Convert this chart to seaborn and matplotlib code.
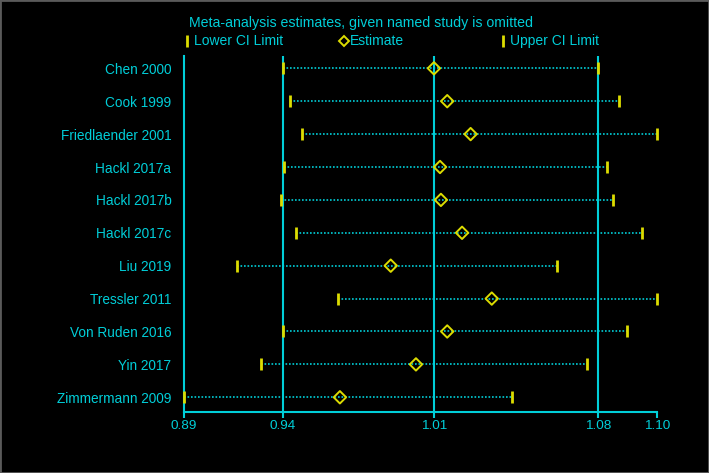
import matplotlib
matplotlib.use("Agg")
import matplotlib.pyplot as plt
import seaborn as sns
import pandas as pd
from matplotlib.lines import Line2D
from matplotlib.patches import Rectangle

# Influence analysis: estimate when each named study is left out
studies = ["Chen 2000", "Cook 1999", "Friedlaender 2001", "Hackl 2017a", "Hackl 2017b",
           "Hackl 2017c", "Liu 2019", "Tressler 2011", "Von Ruden 2016", "Yin 2017",
           "Zimmermann 2009"]
lower = [0.9380, 0.9411, 0.9466, 0.9384, 0.9372, 0.9439, 0.9174, 0.9623, 0.9380, 0.9281, 0.8940]
estimate = [1.0051, 1.0110, 1.0214, 1.0078, 1.0082, 1.0176, 0.9859, 1.0308, 1.0110, 0.9971, 0.9633]
upper = [1.0781, 1.0875, 1.1041, 1.0821, 1.0848, 1.0974, 1.0596, 1.1041, 1.0908, 1.0730, 1.0398]
# full-sample lower CI, estimate, upper CI
overall = [0.9380, 1.0053, 1.0780]

legend_title = "Meta-analysis estimates, given named study is omitted"
legend_labels = ["Lower CI Limit", "Estimate", "Upper CI Limit"]

CYAN = "#00CED8"
YELLOW = "#DCDC00"

df = pd.DataFrame({"study": studies, "lower": lower, "estimate": estimate, "upper": upper})

sns.set_theme(style="ticks")
plt.rcParams["font.family"] = ["Liberation Sans", "DejaVu Sans"]

fig = plt.figure(figsize=(7.09, 4.73), dpi=100, facecolor="black")
ax = fig.add_axes([0.2595, 0.1296, 0.6667, 0.752])
ax.set_facecolor("black")

for v in overall:
    ax.axvline(v, color=CYAN, lw=1.5, zorder=1)

ax.hlines(range(len(studies)), df["lower"], df["upper"], colors=CYAN,
          linestyles=(0, (1, 1.1)), lw=1.2, zorder=2)

sns.scatterplot(data=df, x="lower", y="study", marker="|", s=80, color=YELLOW,
                linewidth=2, ax=ax, zorder=3, legend=False)
sns.scatterplot(data=df, x="upper", y="study", marker="|", s=80, color=YELLOW,
                linewidth=2, ax=ax, zorder=3, legend=False)
sns.scatterplot(data=df, x="estimate", y="study", marker="D", s=40, fc="none",
                ec=YELLOW, linewidth=1.4, ax=ax, zorder=4, legend=False)
for c in ax.collections:
    c.set_clip_on(False)

ax.set_xlim(min(lower), max(upper))
ax.set_ylim(len(studies) - 1 + 0.438, -0.374)

ticks = [min(lower)] + overall + [max(upper)]
ax.set_xticks(ticks)
ax.set_xticklabels([f"{t:.2f}" for t in ticks])

for s in ["top", "right"]:
    ax.spines[s].set_visible(False)
for s in ["left", "bottom"]:
    ax.spines[s].set_color(CYAN)
    ax.spines[s].set_linewidth(1.5)

ax.tick_params(axis="x", colors=CYAN, length=4.3, width=1.5, direction="out", pad=2, labelsize=9.7)
ax.tick_params(axis="y", length=0, pad=9, labelcolor=CYAN, labelsize=9.8)
ax.set_xlabel("")
ax.set_ylabel("")
ax.grid(False)

# legend in the Stata style, above the plot
fig.text(188.7 / 709, 1 - 23 / 473, legend_title, color=CYAN, fontsize=10.2, ha="left", va="center")
markers = [("|", 187, 194), ("D", 344, 350), ("|", 503, 510)]
for (m, mx, tx), lab in zip(markers, legend_labels):
    if m == "|":
        fig.add_artist(Line2D([mx / 709], [1 - 40.7 / 473], transform=fig.transFigure, marker="|",
                              color=YELLOW, ms=8, mew=2, ls="none"))
    else:
        fig.add_artist(Line2D([mx / 709], [1 - 40.7 / 473], transform=fig.transFigure, marker="D",
                              mfc="none", mec=YELLOW, ms=5.5, mew=1.4, ls="none"))
    fig.text(tx / 709, 1 - 40.7 / 473, lab, color=CYAN, fontsize=10, ha="left", va="center")

fig.add_artist(Rectangle((0, 0), 1, 1, transform=fig.transFigure, fill=False,
                         ec="#5a5a5a", lw=2))

fig.savefig("out.png", dpi=100, facecolor="black")
